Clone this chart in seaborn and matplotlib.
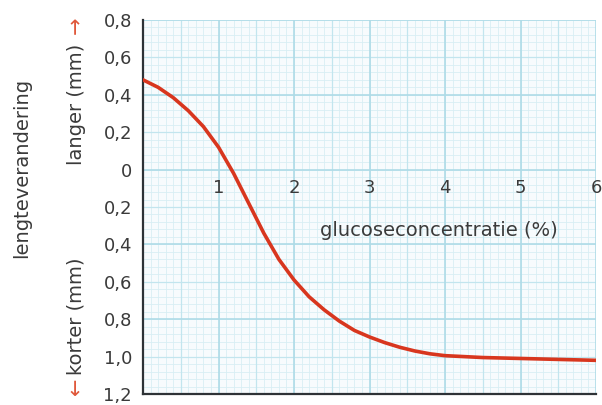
import numpy as np
import pandas as pd
import matplotlib
matplotlib.use("Agg")
import matplotlib.pyplot as plt
import seaborn as sns

# Length change of potato strips against glucose concentration
glucose = [0.0, 0.2, 0.4, 0.6, 0.8, 1.0, 1.2, 1.4, 1.6, 1.8, 2.0, 2.2, 2.4,
           2.6, 2.8, 3.0, 3.2, 3.4, 3.6, 3.8, 4.0, 4.5, 5.0, 5.5, 6.0]
length_change = [0.48, 0.44, 0.385, 0.315, 0.23, 0.12, -0.02, -0.18, -0.34,
                 -0.48, -0.59, -0.68, -0.75, -0.81, -0.86, -0.895, -0.925,
                 -0.95, -0.97, -0.985, -0.995, -1.005, -1.01, -1.015, -1.02]

x_ticks = [1, 2, 3, 4, 5, 6]
x_tick_labels = ["1", "2", "3", "4", "5", "6"]
y_ticks = [0.8, 0.6, 0.4, 0.2, 0.0, -0.2, -0.4, -0.6, -0.8, -1.0, -1.2]
y_tick_labels = ["0,8", "0,6", "0,4", "0,2", "0", "0,2", "0,4", "0,6",
                 "0,8", "1,0", "1,2"]

df = pd.DataFrame({"glucose": glucose, "change": length_change})

sns.set_style("white")
plt.rcParams["font.family"] = ["DejaVu Sans"]

TEXT = "#3a3a3a"
ARROW = "#e0583a"
W, H = 602, 405

fig = plt.figure(figsize=(W / 100, H / 100), dpi=100)
ax = fig.add_axes([143 / W, 1 - 394 / H, (596 - 143) / W, (394 - 20) / H])
ax.set_facecolor("#f7fbfd")
ax.set_xlim(0, 6)
ax.set_ylim(-1.2, 0.8)

# graph-paper grid: fine, medium and bold lines
fine_x = np.arange(0, 6.001, 0.1)
fine_y = np.arange(-1.2, 0.801, 0.04)
ax.vlines(fine_x, -1.2, 0.8, color="#d8eef4", lw=0.6, zorder=0)
ax.hlines(fine_y, 0, 6, color="#d8eef4", lw=0.6, zorder=0)
ax.vlines(np.arange(0.5, 6, 1.0), -1.2, 0.8, color="#c2e5ee", lw=0.9, zorder=0)
ax.hlines(np.arange(-1.0, 0.81, 0.4), 0, 6, color="#c2e5ee", lw=0.9, zorder=0)
ax.vlines(np.arange(0, 6.01, 1.0), -1.2, 0.8, color="#aedbe7", lw=1.2, zorder=0)
ax.hlines(np.arange(-1.2, 0.81, 0.4), 0, 6, color="#aedbe7", lw=1.2, zorder=0)

sns.lineplot(data=df, x="glucose", y="change", ax=ax, color="#d8361e",
             lw=2.6, zorder=3)

ax.set_xticks([])
ax.set_yticks(y_ticks)
ax.set_yticklabels(y_tick_labels, fontsize=13, color=TEXT)
ax.tick_params(axis="y", length=0, pad=8)
ax.set_xlabel("")
ax.set_ylabel("")

for s in ["top", "right"]:
    ax.spines[s].set_visible(False)
for s in ["left", "bottom"]:
    ax.spines[s].set_color("#2e3236")
    ax.spines[s].set_linewidth(1.6)

for xv, lab in zip(x_ticks, x_tick_labels):
    ax.text(xv, -0.10, lab, ha="center", va="center", fontsize=13,
            color=TEXT, clip_on=False)
ax.text(2.35, -0.325, "glucoseconcentratie (%)", ha="left", va="center",
        fontsize=14, color=TEXT)


def fig_text(px, py, s, **kw):
    fig.text(px / W, 1 - py / H, s, **kw)


fig_text(22, 168, "lengteverandering", rotation=90, ha="center",
         va="center", fontsize=14, color=TEXT)
fig_text(76, 104, "langer (mm)", rotation=90, ha="center", va="center",
         fontsize=14, color=TEXT)
fig_text(76, 25, "→", rotation=90, ha="center", va="center",
         fontsize=15, color=ARROW)
fig_text(76, 316, "korter (mm)", rotation=90, ha="center", va="center",
         fontsize=14, color=TEXT)
fig_text(76, 386, "←", rotation=90, ha="center", va="center",
         fontsize=15, color=ARROW)

fig.savefig("out.png", dpi=100, facecolor="white")
